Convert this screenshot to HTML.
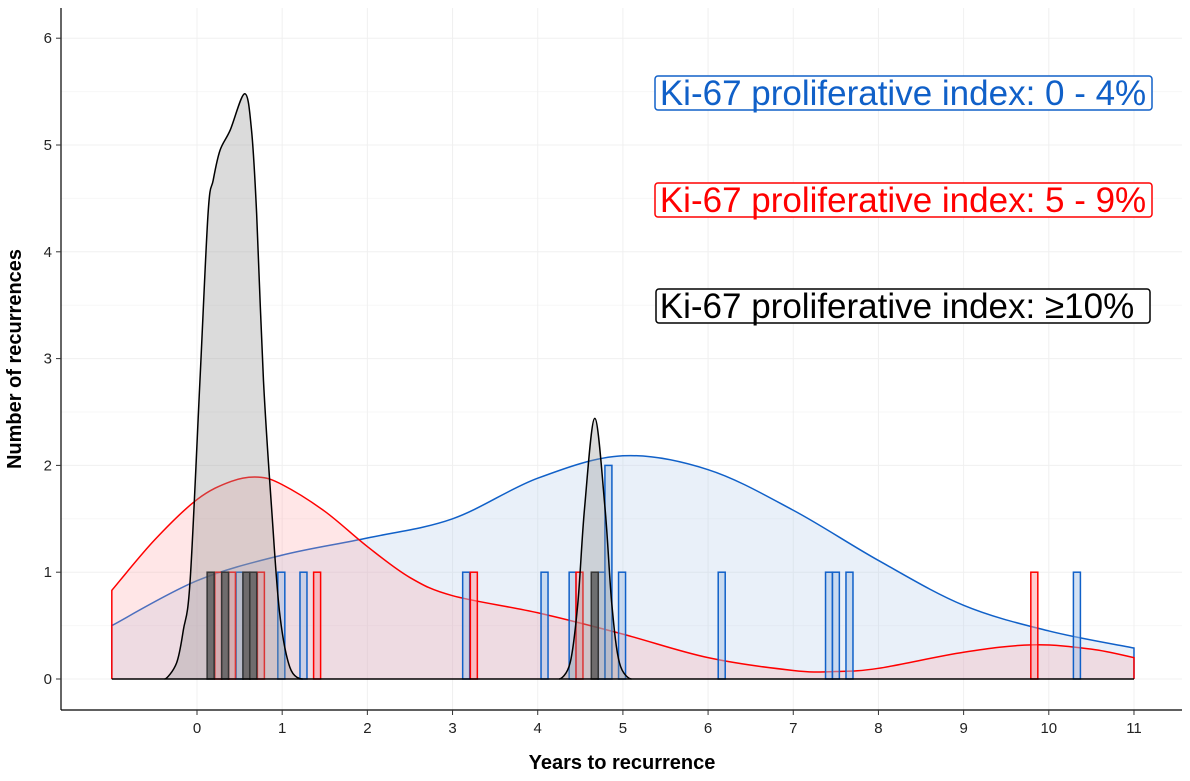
<!DOCTYPE html>
<html><head><meta charset="utf-8"><style>
body{margin:0;background:#fff;font-family:"Liberation Sans",sans-serif;position:relative}
</style></head><body>
<svg id="c" width="1190" height="776" xmlns="http://www.w3.org/2000/svg" font-family="Liberation Sans, DejaVu Sans, sans-serif"></svg>
<script>
const xTicks=[0,1,2,3,4,5,6,7,8,9,10,11];
const yTicks=[0,1,2,3,4,5,6];
const blueBars=[[0.5,1],[0.99,1],[1.25,1],[3.16,1],[4.08,1],[4.41,1],[4.75,1],[4.83,2],[4.99,1],[6.16,1],[7.42,1],[7.5,1],[7.66,1],[10.33,1]];
const redBars=[[0.25,1],[0.41,1],[0.75,1],[1.41,1],[3.25,1],[4.49,1],[9.83,1]];
const blackBars=[[0.16,1],[0.33,1],[0.58,1],[0.66,1],[4.67,1]];
const blueDens=[[-1,0.5],[0,0.92],[1,1.16],[2,1.32],[3,1.5],[4,1.88],[5,2.09],[6,1.96],[7,1.58],[8,1.11],[9,0.69],[10,0.45],[11,0.29]];
const redDens=[[-1,0.83],[-0.5,1.3],[0,1.68],[0.4,1.85],[0.72,1.89],[1,1.82],[1.5,1.57],[2,1.24],[2.5,0.95],[3,0.78],[4,0.62],[5,0.42],[6,0.2],[7,0.08],[7.5,0.07],[8,0.1],[9,0.25],[9.8,0.32],[10.5,0.28],[11,0.2]];
const blackDens1=[[-0.38,0],[-0.24,0.15],[-0.16,0.46],[-0.08,0.93],[0.035,2.8],[0.13,4.36],[0.19,4.67],[0.27,4.95],[0.39,5.14],[0.56,5.48],[0.64,5.14],[0.70,4.36],[0.78,2.8],[0.88,1.55],[0.97,0.62],[1.09,0.11],[1.24,0]];
const blackDens2=[[4.25,0],[4.38,0.15],[4.47,0.7],[4.55,1.6],[4.67,2.44],[4.79,1.6],[4.87,0.7],[4.96,0.15],[5.1,0]];
const X=v=>197+v*85.18, Y=v=>679-v*106.8;
const svg=document.getElementById('c'),NS='http://www.w3.org/2000/svg';
function el(t,a,txt){const e=document.createElementNS(NS,t);for(const k in a)e.setAttribute(k,a[k]);if(txt!==undefined)e.textContent=txt;svg.appendChild(e);return e;}
for(const t of yTicks){const g=el('line',{x1:61,x2:1182,y1:Y(t),y2:Y(t),stroke:'#f0f0f0'});
 const h=el('line',{x1:61,x2:1182,y1:Y(t+0.5),y2:Y(t+0.5),stroke:'#f7f7f7'});}
for(const t of xTicks){const g=el('line',{y1:8,y2:710,x1:X(t),x2:X(t),stroke:'#f0f0f0'});}
function smooth(p){let d=`M${X(p[0][0])},${Y(p[0][1])}`;for(let i=0;i<p.length-1;i++){const p0=p[i-1]||p[i],p1=p[i],p2=p[i+1],p3=p[i+2]||p2;
 let a=[X(p1[0])+(X(p2[0])-X(p0[0]))/6,Y(p1[1])+(Y(p2[1])-Y(p0[1]))/6],b=[X(p2[0])-(X(p3[0])-X(p1[0]))/6,Y(p2[1])-(Y(p3[1])-Y(p1[1]))/6];
 if(p1[1]===0)a[1]=Y(0); if(p2[1]===0)b[1]=Y(0);
 d+=` C${a[0]},${Math.min(a[1],679)} ${b[0]},${Math.min(b[1],679)} ${X(p2[0])},${Y(p2[1])}`;}return d;}
function dens(p,col,fill,op,name){const d=smooth(p);
 const f=el('path',{d:d+` L${X(p[p.length-1][0])},${Y(0)} L${X(p[0][0])},${Y(0)} Z`,fill:fill,'fill-opacity':op,stroke:'none'});
 const l=el('path',{d:`M${X(p[0][0])},${Y(0)} L`+d.slice(1)+` L${X(p[p.length-1][0])},${Y(0)}`,fill:'none',stroke:col,'stroke-width':1.5});}
dens(blueDens,'#1060c8','#a8c4e8',0.25,'blue-density');
dens(redDens,'#ff0000','#ff9aa0',0.25,'red-density');
function bars(arr,col,fill,op,name){for(const [x,v] of arr){const r=el('rect',{x:X(x)-3.5,y:Y(v),width:7,height:Y(0)-Y(v),fill:fill,'fill-opacity':op,stroke:col,'stroke-width':1.5});}}
bars(blueBars,'#1060c8','#a8c4e8',0.5,'blue-bar');
bars(redBars,'#ff0000','#ff9aa0',0.5,'red-bar');
bars(blackBars,'#000','#333',0.8,'black-bar');
dens(blackDens1,'#000','#999',0.35,'black-density-1');
dens(blackDens2,'#000','#999',0.35,'black-density-2');
el('line',{x1:X(-1),x2:X(11),y1:Y(0),y2:Y(0),stroke:'#000','stroke-width':1.5});
const ax=el('line',{x1:61,x2:61,y1:8,y2:710,stroke:'#000','stroke-width':1.2});
const bx=el('line',{x1:61,x2:1182,y1:710,y2:710,stroke:'#000','stroke-width':1.2});
for(const t of yTicks){el('line',{x1:56,x2:61,y1:Y(t),y2:Y(t),stroke:'#333'});const tx=el('text',{x:52,y:Y(t)+5,'text-anchor':'end','font-size':15,fill:'#222'},t);}
for(const t of xTicks){el('line',{x1:X(t),x2:X(t),y1:710,y2:715,stroke:'#333'});const tx=el('text',{x:X(t),y:733,'text-anchor':'middle','font-size':15,fill:'#222'},t);}
</script>
<svg style="position:absolute;left:0;top:0" width="1190" height="776" font-family="Liberation Sans, DejaVu Sans, sans-serif">
<text x="622" y="769" text-anchor="middle" font-size="20" font-weight="bold">Years to recurrence</text>
<text transform="translate(21,359) rotate(-90)" text-anchor="middle" font-size="20" font-weight="bold">Number of recurrences</text>
<g><rect x="655" y="76" width="497" height="34" rx="3" fill="#fff" stroke="#1060c8" stroke-width="1.5"/><text x="903" y="105" text-anchor="middle" font-size="35" fill="#1060c8">Ki-67 proliferative index: 0 - 4%</text></g>
<g><rect x="655" y="183" width="497" height="34" rx="3" fill="#fff" stroke="#ff0000" stroke-width="1.5"/><text x="903" y="212" text-anchor="middle" font-size="35" fill="#ff0000">Ki-67 proliferative index: 5 - 9%</text></g>
<g><rect x="656" y="289" width="494" height="34" rx="3" fill="#fff" stroke="#000" stroke-width="1.5"/><text x="897" y="318" text-anchor="middle" font-size="35" fill="#000">Ki-67 proliferative index: ≥10%</text></g>
</svg>
</body></html>
